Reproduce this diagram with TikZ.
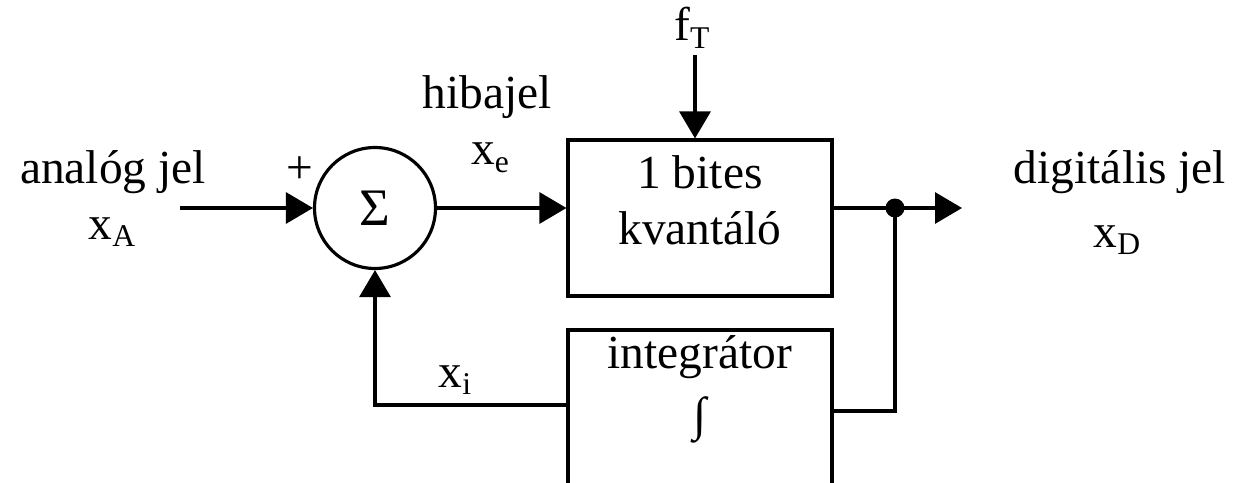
\documentclass[tikz,border=0pt]{standalone}
\usepackage{fontspec}
\setmainfont{Liberation Serif}
\usetikzlibrary{arrows.meta}
\newcommand\subs[1]{\raisebox{-0.35ex}{\fontsize{18}{18}\selectfont #1}}
\begin{document}
\begin{tikzpicture}[x=0.02cm,y=-0.02cm,
  line width=1.8pt,
  every node/.style={font=\fontsize{27}{30}\selectfont, inner sep=0pt},
  arr/.style={-{Triangle[length=5.4mm,width=6.2mm]}},
  blk/.style={draw, rectangle, minimum width=5.28cm}]
\useasboundingbox (0,0) rectangle (1234,483);
\clip (0,0) rectangle (1234,483);
% blocks
\node[draw, circle, minimum size=2.42cm] (sigma) at (375,208) {\fontsize{30}{30}\selectfont Σ};
\node[blk, minimum height=3.12cm] (q) at (700,218) {};
\node[blk, minimum height=3.8cm] (integ) at (700,425) {};
% coordinates
\coordinate (in) at (180,208);
\coordinate (ft) at (695,55);
\coordinate (dot) at (895,208);
\coordinate (out) at (962,208);
\coordinate (fbr) at (895,411);
\coordinate (fbl) at (375,405);
% texts
\node (t1) at (700,172) {1 bites};
\node (t2) at (700,228) {kvantáló};
\node (t3) at (700,357) {integrátor};
\node (t4) at (700,420) {∫};
\node (ftl) at (692,28) {f\subs{T}};
\node (hib) at (487,97) {hibajel};
\node (xe) at (490,158) {x\subs{e}};
\node (an) at (113,172) {analóg jel};
\node (xa) at (112,232) {x\subs{A}};
\node (plus) at (300,170) {+};
\node (xi) at (455,380) {x\subs{i}};
\node (dig) at (1120,172) {digitális jel};
\node (xd) at (1117,240) {x\subs{D}};
% connectors
\draw[arr] (in) -- (sigma.west);
\draw[arr] (sigma.east) -- (sigma.east -| q.west);
\draw[arr] (ft) -- (ft |- q.north);
\draw[arr] (q.east |- dot) -- (out);
\fill (dot) circle (0.19cm);
\draw (dot) -- (fbr) -- (fbr -| integ.east);
\draw[arr] (fbl -| integ.west) -- (fbl) -- (sigma.south);
\end{tikzpicture}
\end{document}
